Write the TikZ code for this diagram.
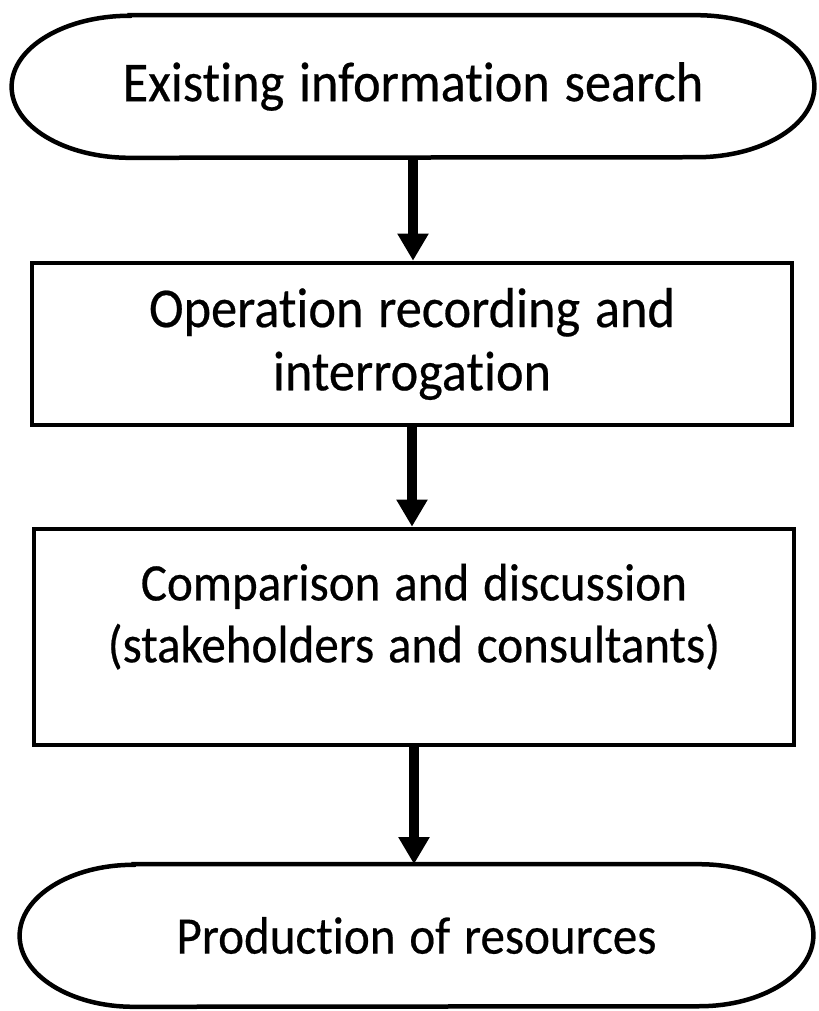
\documentclass[tikz,border=0pt]{standalone}
\usepackage{fontspec}
\setmainfont{Carlito}[Ligatures=NoCommon, FakeStretch=0.93, WordSpace=1.25, FakeBold=0.4]
\usetikzlibrary{arrows.meta}
\tikzstyle{label text}=[font=\fontsize{40}{45}\selectfont, align=center]
\tikzstyle{small text}=[font=\fontsize{37.5}{44}\selectfont]
\tikzstyle{process}=[label text, draw, line width=3.2pt, minimum width=19cm, inner sep=0pt]
\tikzstyle{terminal}=[label text, minimum height=3.55cm, inner sep=0pt]
\tikzstyle{terminal outline}=[line width=3.2pt]
\tikzstyle{flow}=[line width=7pt, -{Triangle[width=0.74cm, length=0.68cm]}]

\newcommand{\terminaloutline}[2]{%
  \draw[terminal outline] ([xshift=#2]#1.north west)
    -- ([xshift=-#2]#1.north east)
    arc[start angle=90, end angle=-90, x radius=#2, y radius=1.775cm]
    -- ([xshift=#2]#1.south west)
    arc[start angle=270, end angle=90, x radius=#2, y radius=1.775cm]
    -- cycle;}

\begin{document}
\begin{tikzpicture}[x=0.025cm, y=-0.025cm]
  \useasboundingbox (0, 0) rectangle (818, 1011);
  \node[terminal, minimum width=20.05cm] (search) at (413, 86.5) {Existing information search};
  \node[process, minimum height=4.05cm] (record) at (412, 344) {Operation recording and\\interrogation};
  \node[process, small text, minimum height=5.4cm] (compare) at (414, 637) {Comparison and discussion\\(stakeholders and consultants)\\[-0.35cm]};
  \node[terminal, font=\fontsize{37.5}{44}\selectfont, minimum width=19.825cm] (produce) at (416.5, 935.5) {Production of resources};
  \terminaloutline{search}{2.95cm}
  \terminaloutline{produce}{2.85cm}
  % arrows between the steps
  \draw[flow] (search.south) -- (search.south |- record.north);
  \draw[flow] (record.south) -- (record.south |- compare.north);
  \draw[flow] (compare.south) -- (compare.south |- produce.north);
\end{tikzpicture}
\end{document}
